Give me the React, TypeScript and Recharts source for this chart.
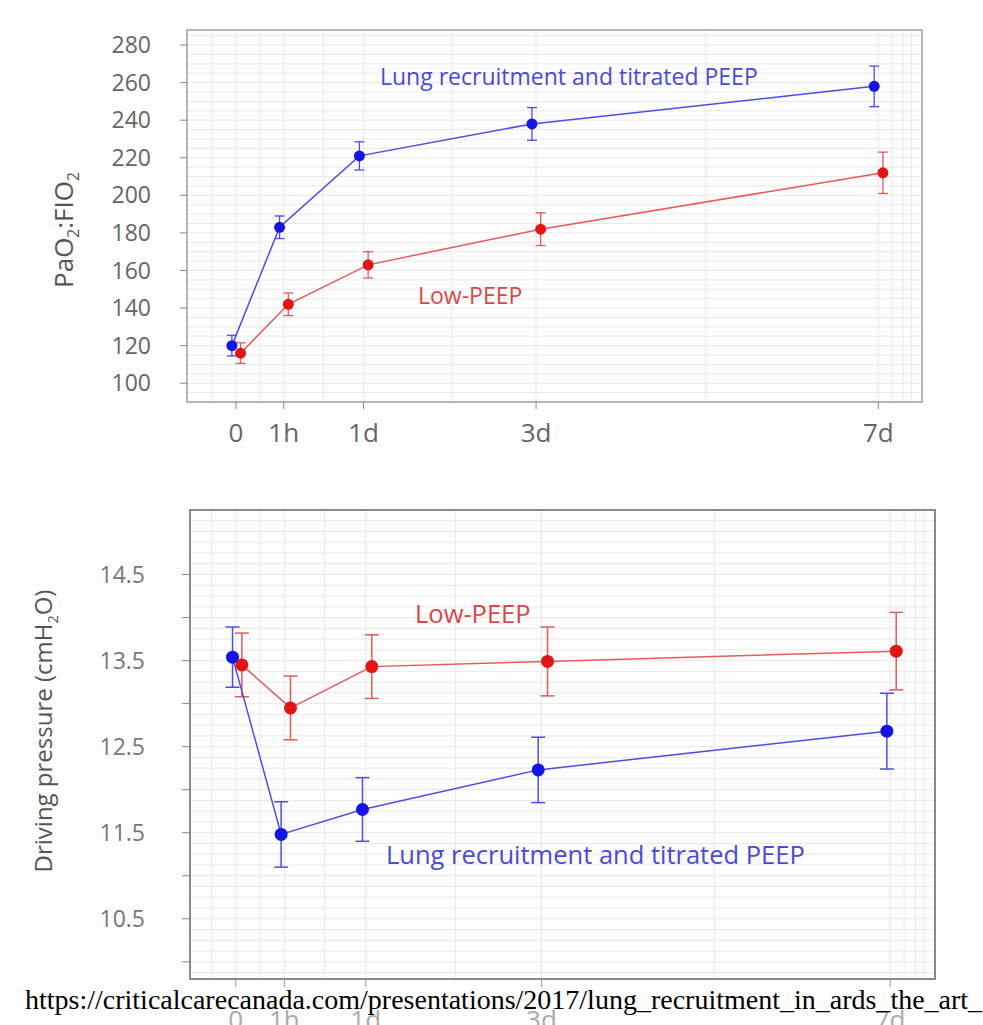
import type { ReactNode } from 'react'
import {
  ComposedChart,
  Line,
  XAxis,
  YAxis,
  CartesianGrid,
  ErrorBar,
  ReferenceArea,
} from 'recharts'

// time points, placed on the axis the way the original figure spaces them
const timeLabels = ['0', '1h', '1d', '3d', '7d']
const timePos = [0, 0.52, 1.39, 3.27, 7]

// PaO2:FIO2
const pfRecruit = [120, 183, 221, 238, 258]
const pfRecruitErr = [5.5, 6, 7.5, 8.7, 10.8]
const pfLowPeep = [116, 142, 163, 182, 212]
const pfLowPeepErr = [5.5, 6, 7, 8.7, 11]
const pfTicks = [100, 120, 140, 160, 180, 200, 220, 240, 260, 280]

// Driving pressure (cmH2O)
const dpRecruit = [13.54, 11.48, 11.77, 12.23, 12.68]
const dpRecruitErr = [0.35, 0.38, 0.37, 0.38, 0.44]
const dpLowPeep = [13.45, 12.95, 13.43, 13.49, 13.61]
const dpLowPeepErr = [0.37, 0.37, 0.37, 0.4, 0.45]
const dpTicks = [10, 10.5, 11, 11.5, 12, 12.5, 13, 13.5, 14, 14.5]
const dpLabelled = [10.5, 11.5, 12.5, 13.5, 14.5]

const gridX = [-0.26, 0, 0.26, 0.52, 0.95, 1.39, 2.35, 3.27, 5.12, 7, 7.15, 7.27, 7.36]
const pfGridY = Array.from({ length: 40 }, (_, i) => 90 + i * 5)
const dpGridY = Array.from({ length: 44 }, (_, i) => 9.875 + i * 0.125)

const BLUE_LINE = '#4d4de6'
const BLUE_DOT = '#1414e6'
const RED_LINE = '#e65a5a'
const RED_DOT = '#e31414'
const FONT = '"Open Sans", sans-serif'

const toPoints = (vals: number[], errs: number[], dodge: number) =>
  timePos.map((t, i) => ({ x: t + dodge, y: vals[i], err: errs[i] }))

const timeFmt = (v: number) => timeLabels[timePos.indexOf(v)] ?? ''

function Note({ left, cy, size, color, children }: {
  left: number
  cy: number
  size: number
  color: string
  children: ReactNode
}) {
  return (
    <div
      style={{
        position: 'absolute',
        left,
        top: cy,
        transform: 'translateY(-50%)',
        fontFamily: FONT,
        fontSize: size,
        lineHeight: 1,
        color,
        whiteSpace: 'nowrap',
      }}
    >
      {children}
    </div>
  )
}

function AxisTitle({ cx, cy, size, children }: { cx: number; cy: number; size: number; children: ReactNode }) {
  return (
    <div
      style={{
        position: 'absolute',
        left: cx,
        top: cy,
        transform: 'translate(-50%, -50%) rotate(-90deg)',
        fontFamily: FONT,
        fontSize: size,
        lineHeight: 1,
        color: '#555',
        whiteSpace: 'nowrap',
      }}
    >
      {children}
    </div>
  )
}

export default function App() {
  const pfX: [number, number] = [-0.534, 7.476]
  const pfY: [number, number] = [90, 288]
  const dpX: [number, number] = [-0.49, 7.48]
  const dpY: [number, number] = [9.8, 15.25]

  return (
    <div
      style={{
        position: 'absolute',
        left: 0,
        top: 0,
        width: 983,
        height: 1025,
        overflow: 'hidden',
        background: '#fdfdfd',
      }}
    >
      {/* PaO2:FIO2 panel */}
      <div style={{ position: 'absolute', left: 0, top: 0 }}>
        <ComposedChart width={983} height={470} margin={{ top: 30, right: 61, bottom: 8, left: 0 }}>
          <CartesianGrid stroke="#e9e9e9" verticalValues={gridX} horizontalValues={pfGridY} />
          <XAxis
            type="number"
            dataKey="x"
            domain={pfX}
            allowDataOverflow
            ticks={timePos}
            interval={0}
            tickFormatter={timeFmt}
            height={60}
            axisLine={false}
            tickSize={7}
            tickMargin={15}
            tickLine={{ stroke: '#888' }}
            tick={{ fill: '#666', fontSize: 26, fontFamily: FONT }}
          />
          <YAxis
            type="number"
            domain={pfY}
            allowDataOverflow
            ticks={pfTicks}
            interval={0}
            width={187}
            axisLine={false}
            tickSize={7}
            tickMargin={29}
            tickLine={{ stroke: '#888' }}
            tick={{ fill: '#666', fontSize: 23, fontFamily: FONT }}
          />
          <ReferenceArea x1={pfX[0]} x2={pfX[1]} y1={pfY[0]} y2={pfY[1]} fill="none" stroke="#a0a0a0" strokeWidth={1.5} />
          <Line
            data={toPoints(pfLowPeep, pfLowPeepErr, 0.05)}
            dataKey="y"
            stroke={RED_LINE}
            strokeWidth={1.5}
            dot={{ r: 5.5, fill: RED_DOT, stroke: RED_DOT, strokeWidth: 0 }}
            activeDot={false}
            isAnimationActive={false}
          >
            <ErrorBar dataKey="err" direction="y" width={5} stroke={RED_LINE} strokeWidth={1.3} />
          </Line>
          <Line
            data={toPoints(pfRecruit, pfRecruitErr, -0.045)}
            dataKey="y"
            stroke={BLUE_LINE}
            strokeWidth={1.5}
            dot={{ r: 5.5, fill: BLUE_DOT, stroke: BLUE_DOT, strokeWidth: 0 }}
            activeDot={false}
            isAnimationActive={false}
          >
            <ErrorBar dataKey="err" direction="y" width={5} stroke={BLUE_LINE} strokeWidth={1.3} />
          </Line>
        </ComposedChart>
      </div>

      {/* Driving pressure panel */}
      <div style={{ position: 'absolute', left: 0, top: 480 }}>
        <ComposedChart width={983} height={560} margin={{ top: 30, right: 48, bottom: 0, left: 0 }}>
          <CartesianGrid stroke="#e9e9e9" verticalValues={gridX} horizontalValues={dpGridY} />
          <XAxis
            type="number"
            dataKey="x"
            domain={dpX}
            allowDataOverflow
            ticks={timePos}
            interval={0}
            tickFormatter={timeFmt}
            height={61}
            axisLine={false}
            tickSize={8}
            tickMargin={24}
            tickLine={{ stroke: '#999' }}
            tick={{ fill: '#aaa', fontSize: 26, fontFamily: FONT }}
          />
          <YAxis
            type="number"
            domain={dpY}
            allowDataOverflow
            ticks={dpTicks}
            interval={0}
            width={190}
            axisLine={false}
            tickSize={8}
            tickMargin={37}
            tickFormatter={(v: number) => (dpLabelled.includes(v) ? v.toFixed(1) : '')}
            tickLine={{ stroke: '#888' }}
            tick={{ fill: '#777', fontSize: 23, fontFamily: FONT }}
          />
          <ReferenceArea x1={dpX[0]} x2={dpX[1]} y1={dpY[0]} y2={dpY[1]} fill="none" stroke="#8a8a8a" strokeWidth={2} />
          <Line
            data={toPoints(dpLowPeep, dpLowPeepErr, 0.065)}
            dataKey="y"
            stroke={RED_LINE}
            strokeWidth={1.5}
            dot={{ r: 6.5, fill: RED_DOT, stroke: RED_DOT, strokeWidth: 0 }}
            activeDot={false}
            isAnimationActive={false}
          >
            <ErrorBar dataKey="err" direction="y" width={7} stroke={RED_LINE} strokeWidth={1.5} />
          </Line>
          <Line
            data={toPoints(dpRecruit, dpRecruitErr, -0.035)}
            dataKey="y"
            stroke={BLUE_LINE}
            strokeWidth={1.5}
            dot={{ r: 6.5, fill: BLUE_DOT, stroke: BLUE_DOT, strokeWidth: 0 }}
            activeDot={false}
            isAnimationActive={false}
          >
            <ErrorBar dataKey="err" direction="y" width={7} stroke={BLUE_LINE} strokeWidth={1.5} />
          </Line>
        </ComposedChart>
      </div>

      <AxisTitle cx={66} cy={230} size={26}>
        PaO<sub style={{ fontSize: '0.6em' }}>2</sub>:FIO<sub style={{ fontSize: '0.6em' }}>2</sub>
      </AxisTitle>
      <AxisTitle cx={46} cy={731} size={24}>
        Driving pressure (cmH<sub style={{ fontSize: '0.6em' }}>2</sub>O)
      </AxisTitle>

      <Note left={380} cy={76} size={23} color="#4a4ad8">Lung recruitment and titrated PEEP</Note>
      <Note left={418} cy={295} size={23} color="#d94848">Low-PEEP</Note>
      <Note left={415} cy={614} size={25.5} color="#d94848">Low-PEEP</Note>
      <Note left={386} cy={855} size={25.5} color="#4a4ad8">Lung recruitment and titrated PEEP</Note>

      <div
        style={{
          position: 'absolute',
          left: 25,
          top: 986,
          fontFamily: '"Liberation Serif", "Times New Roman", serif',
          fontSize: 28,
          lineHeight: 1,
          color: '#000',
          whiteSpace: 'nowrap',
        }}
      >
        https://criticalcarecanada.com/presentations/2017/lung_recruitment_in_ards_the_art_
      </div>
    </div>
  )
}
